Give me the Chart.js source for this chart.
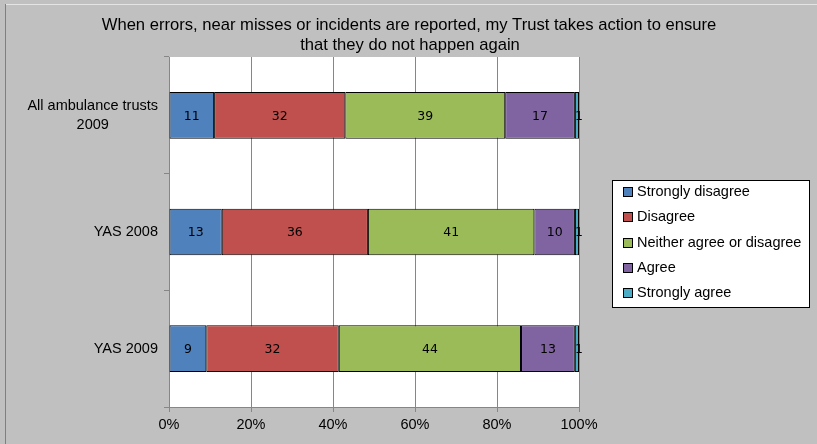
<!DOCTYPE html>
<html>
<head>
<meta charset="utf-8">
<script src="https://cdn.jsdelivr.net/npm/chart.js@4/dist/chart.umd.min.js"></script>
<style>
  html, body { margin: 0; padding: 0; background: #c0c0c0; }
  #wrap { width: 817px; height: 444px; }
</style>
</head>
<body>
<div id="wrap"><canvas id="myChart" width="817" height="444"></canvas></div>
<script>
// survey question, response groups and answer counts (per cent, as reported)
var chartTitle = ['When errors, near misses or incidents are reported, my Trust takes action to ensure', 'that they do not happen again'];
var groups = [['All ambulance trusts', '2009'], ['YAS 2008'], ['YAS 2009']];
var answers = ['Strongly disagree', 'Disagree', 'Neither agree or disagree', 'Agree', 'Strongly agree'];
var answerColours = ['#4F81BD', '#C0504D', '#9BBB59', '#8064A2', '#4BACC6'];

var stronglyDisagree = [11, 13, 9];
var disagree = [32, 36, 32];
var neither = [39, 41, 44];
var agree = [17, 10, 13];
var stronglyAgree = [1, 1, 1];

var xTicks = ['0%', '20%', '40%', '60%', '80%', '100%'];

var series = [stronglyDisagree, disagree, neither, agree, stronglyAgree];

var FONT = '"Liberation Sans", Arial, sans-serif';

// each bar is scaled to 100% of its own total, like a 100% stacked bar
function rowTotal(i)
{
    var t = 0;
    for (var s = 0; s < series.length; s++) t += series[s][i];
    return t;
}

function buildDatasets()
{
    var sets = [];
    for (var s = 0; s < series.length; s++)
    {
        var share = [];
        for (var i = 0; i < groups.length; i++)
        {
            share.push(series[s][i] / rowTotal(i) * 100);
        }
        sets.push({
            label: answers[s],
            data: share,
            counts: series[s],
            backgroundColor: answerColours[s],
            borderColor: '#000000',
            borderWidth: 1,
            borderSkipped: false,
            barPercentage: 0.4,
            categoryPercentage: 1.0
        });
    }
    return sets;
}

var PLOT_LEFT = 169, PLOT_RIGHT = 579, PLOT_TOP = 57, PLOT_BOTTOM = 407;
var W = 817, H = 444;

// frame, white plot area, title, group names, value labels and legend box
var decorPlugin = {
    id: 'decor',
    beforeDraw: function (chart)
    {
        var ctx = chart.ctx;
        var a = chart.chartArea;
        ctx.save();
        ctx.fillStyle = '#c0c0c0';
        ctx.fillRect(0, 0, W, H);
        ctx.strokeStyle = '#e4e4e4';
        ctx.lineWidth = 1;
        ctx.beginPath();
        ctx.moveTo(5, 4.5); ctx.lineTo(W, 4.5);
        ctx.stroke();
        ctx.strokeStyle = '#7f7f7f';
        ctx.beginPath();
        ctx.moveTo(5.5, 4); ctx.lineTo(5.5, H);
        ctx.stroke();
        ctx.fillStyle = '#ffffff';
        ctx.fillRect(a.left, a.top, a.right - a.left, a.bottom - a.top);

        // title
        ctx.fillStyle = '#000000';
        ctx.font = '16.6px ' + FONT;
        ctx.textAlign = 'center';
        ctx.textBaseline = 'middle';
        ctx.fillText(chartTitle[0], 409, 25);
        ctx.fillText(chartTitle[1], 410, 45);
        ctx.restore();
    },
    afterDraw: function (chart)
    {
        var ctx = chart.ctx;
        var yScale = chart.scales.y;
        ctx.save();

        // group names, lines centred on each other, block right-aligned
        ctx.fillStyle = '#000000';
        ctx.font = '14.5px ' + FONT;
        ctx.textBaseline = 'middle';
        for (var i = 0; i < groups.length; i++)
        {
            var lines = groups[i];
            var yc = yScale.getPixelForValue(i);
            var widest = 0;
            for (var k = 0; k < lines.length; k++) widest = Math.max(widest, ctx.measureText(lines[k]).width);
            var cx = 158 - widest / 2;
            ctx.textAlign = 'center';
            for (var k = 0; k < lines.length; k++)
            {
                ctx.fillText(lines[k], cx, yc + (k - (lines.length - 1) / 2) * 19);
            }
        }

        // value labels in the middle of each segment
        ctx.font = '12.5px "DejaVu Sans", sans-serif';
        ctx.textAlign = 'center';
        chart.data.datasets.forEach(function (ds, di)
        {
            var meta = chart.getDatasetMeta(di);
            meta.data.forEach(function (bar, bi)
            {
                var left = Math.min(bar.x, bar.base);
                var right = Math.max(bar.x, bar.base);
                var x = (left + right) / 2;
                if (right - left < 8) x = left + 4;
                ctx.fillText(String(ds.counts[bi]), x, bar.y + 1);
            });
        });

        // legend box
        var lx = 612, ly = 180, lw = 198, lh = 128;
        ctx.fillStyle = '#ffffff';
        ctx.fillRect(lx, ly, lw, lh);
        ctx.strokeStyle = '#000000';
        ctx.lineWidth = 1;
        ctx.strokeRect(lx + 0.5, ly + 0.5, lw - 1, lh - 1);
        ctx.font = '14.5px ' + FONT;
        ctx.textAlign = 'left';
        for (var s = 0; s < answers.length; s++)
        {
            var ry = Math.round(ly + 12 + s * 25.3);
            ctx.fillStyle = answerColours[s];
            ctx.fillRect(624, ry - 4, 8, 8);
            ctx.strokeStyle = '#000000';
            ctx.strokeRect(623.5, ry - 4.5, 9, 9);
            ctx.fillStyle = '#000000';
            ctx.fillText(answers[s], 637, ry);
        }
        ctx.restore();
    }
};

var ctxL = document.getElementById('myChart').getContext('2d');
var myBarChart = new Chart(ctxL, {
    type: 'bar',
    data: {
        labels: groups,
        datasets: buildDatasets()
    },
    options: {
        indexAxis: 'y',
        responsive: false,
        animation: false,
        layout: {
            padding: { left: 10, top: PLOT_TOP, right: W - PLOT_RIGHT, bottom: 0 }
        },
        plugins: {
            legend: { display: false },
            title: { display: false },
            tooltip: { enabled: false }
        },
        scales: {
            x: {
                stacked: true,
                min: 0,
                max: 100,
                afterFit: function (scale) { scale.height = H - PLOT_BOTTOM; },
                ticks: {
                    stepSize: 20,
                    padding: 4,
                    color: '#000000',
                    font: { family: FONT, size: 14.5 },
                    callback: function (value, index) { return xTicks[index]; }
                },
                grid: {
                    color: '#868686',
                    tickLength: 5,
                    drawTicks: true
                },
                border: { color: '#868686' }
            },
            y: {
                stacked: true,
                afterFit: function (scale) { scale.width = PLOT_LEFT - 10; },
                ticks: { display: false },
                grid: {
                    offset: true,
                    drawOnChartArea: false,
                    drawTicks: true,
                    tickLength: 5,
                    color: '#868686'
                },
                border: { color: '#868686' }
            }
        }
    },
    plugins: [decorPlugin]
});
</script>
</body>
</html>
